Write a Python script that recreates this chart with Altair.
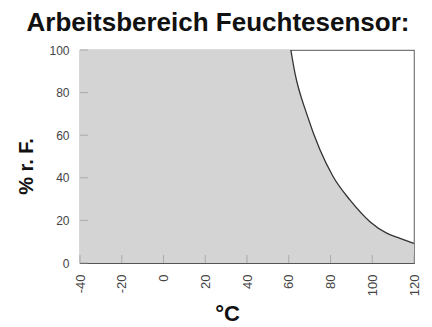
import altair as alt
import pandas as pd

temp = [-40, 61, 63, 68.6, 75, 81.3, 89.3, 98.9, 106.9, 113.3, 120]
rh = [100, 100, 89, 70, 53, 40.5, 29.6, 19.4, 14, 11.6, 9.2]
x_ticks = [-40, -20, 0, 20, 40, 60, 80, 100, 120]
y_ticks = [0, 20, 40, 60, 80, 100]

df = pd.DataFrame({"t": temp, "rh": rh})
curve = df[df["t"] >= 61]
xt = pd.DataFrame({"t": x_ticks})
yt = pd.DataFrame({"v": y_ticks})

xs = alt.Scale(domain=[-40, 120], nice=False, zero=False)
ys = alt.Scale(domain=[0, 100], nice=False)

area = alt.Chart(df).mark_area(color="#d4d4d4", opacity=1).encode(
    x=alt.X("t:Q", scale=xs, title="°C",
            axis=alt.Axis(values=x_ticks, labelAngle=270, labelAlign="right", labelBaseline="middle",
                          labelExpr="toString(datum.value)",
                          labelFontSize=13, labelColor="#444", labelFont="Liberation Sans",
                          labelPadding=11, ticks=False, domainColor="#555", grid=False,
                          titleFont="Liberation Sans", titleFontSize=22, titleFontWeight="bold",
                          titleColor="#111", titlePadding=8, titleX=147)),
    y=alt.Y("rh:Q", scale=ys, title="% r. F.",
            axis=alt.Axis(values=y_ticks, labelFontSize=12, labelColor="#444", labelFont="Liberation Sans",
                          labelPadding=11, ticks=False, domainColor="#555", grid=False,
                          titleFont="Liberation Sans", titleFontSize=20, titleFontWeight="bold",
                          titleColor="#111", titlePadding=12, titleY=116)),
)

line = alt.Chart(curve).mark_line(color="#333", strokeWidth=1.3, interpolate="monotone").encode(
    x=alt.X("t:Q", scale=xs), y=alt.Y("rh:Q", scale=ys))

xtick = alt.Chart(xt).mark_tick(color="#999", size=8, thickness=1, orient="vertical", yOffset=-4).encode(
    x=alt.X("t:Q", scale=xs), y=alt.value(213))
ytick = alt.Chart(yt).mark_tick(color="#999", size=8, thickness=1, orient="horizontal", xOffset=4).encode(
    y=alt.Y("v:Q", scale=ys), x=alt.value(0))

chart = alt.layer(area, line, xtick, ytick).properties(
    width=334, height=213,
    title=alt.Title("Arbeitsbereich Feuchtesensor:", font="Liberation Sans", fontSize=26,
                    fontWeight="bold", color="#111", anchor="middle", dx=-29, offset=8),
    autosize=alt.AutoSizeParams(type="none"),
    padding={"left": 72, "top": 42, "right": 10, "bottom": 70},
).configure_view(stroke="#777", strokeWidth=1.2)

chart.save("out.html", embed_options={"renderer": "svg", "actions": False})
